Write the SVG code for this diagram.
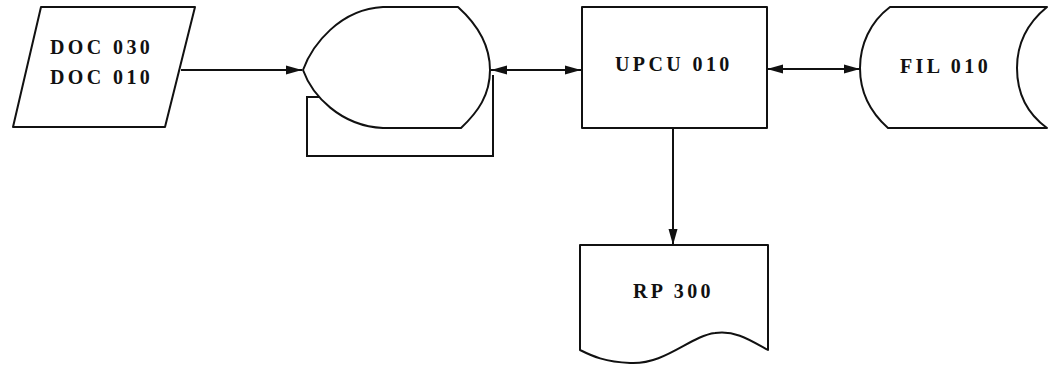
<svg xmlns="http://www.w3.org/2000/svg" width="1053" height="368" viewBox="0 0 1053 368">
<style>
.s{fill:#fff;stroke:#111;stroke-width:2;stroke-linejoin:round}
.c{fill:none;stroke:#111;stroke-width:2}
.t{font-family:"Liberation Serif","Times New Roman",serif;font-weight:bold;font-size:20px;letter-spacing:3.4px;fill:#111}
</style>
<defs>
<marker id="ah" viewBox="0 0 16 11" refX="16" refY="5.5" markerWidth="16" markerHeight="11" markerUnits="userSpaceOnUse" orient="auto-start-reverse">
<path d="M0,1 L16,5.5 L0,10 Z" fill="#111"/>
</marker>
</defs>
<rect width="1053" height="368" fill="#fff"/>
<g id="connectors">
<line class="c" x1="181" y1="70" x2="302" y2="70" marker-end="url(#ah)"/>
<line class="c" x1="491" y1="70" x2="581" y2="70" marker-start="url(#ah)" marker-end="url(#ah)"/>
<line class="c" x1="767" y1="69" x2="860" y2="69" marker-start="url(#ah)" marker-end="url(#ah)"/>
<line class="c" x1="673" y1="128" x2="673" y2="245" marker-end="url(#ah)"/>
<polyline class="c" points="493,75 493,156 307,156 307,97 319,97"/>
</g>
<g id="doc">
<polygon class="s" points="41,7 195,7 165,127 13,127"/>
<text class="t" x="50" y="54">DOC 030</text>
<text class="t" x="50" y="84">DOC 010</text>
</g>
<g id="display">
<path class="s" d="M303,70 C312,45 340,9 383,7 L458,7 C478,25 490,45 490,70 C490,95 478,112 461,128 L383,128 C340,126 312,95 303,70 Z"/>
</g>
<g id="upcu">
<rect class="s" x="582" y="7" width="185" height="121"/>
<text class="t" x="615" y="71">UPCU 010</text>
</g>
<g id="fil">
<path class="s" d="M890,7 L1047,7 C1025,25 1017,45 1017,68 C1017,92 1025,112 1047,128 L888,128 C870,112 860,92 860,68 C860,45 870,22 890,7 Z"/>
<text class="t" x="900" y="73">FIL 010</text>
</g>
<g id="rp">
<path class="s" d="M580,245 L768,245 L768,350 C750,340 735,330 715,333 C690,336 665,365 630,363 C605,362 592,356 580,350 Z"/>
<text class="t" x="633" y="298">RP 300</text>
</g>
</svg>
